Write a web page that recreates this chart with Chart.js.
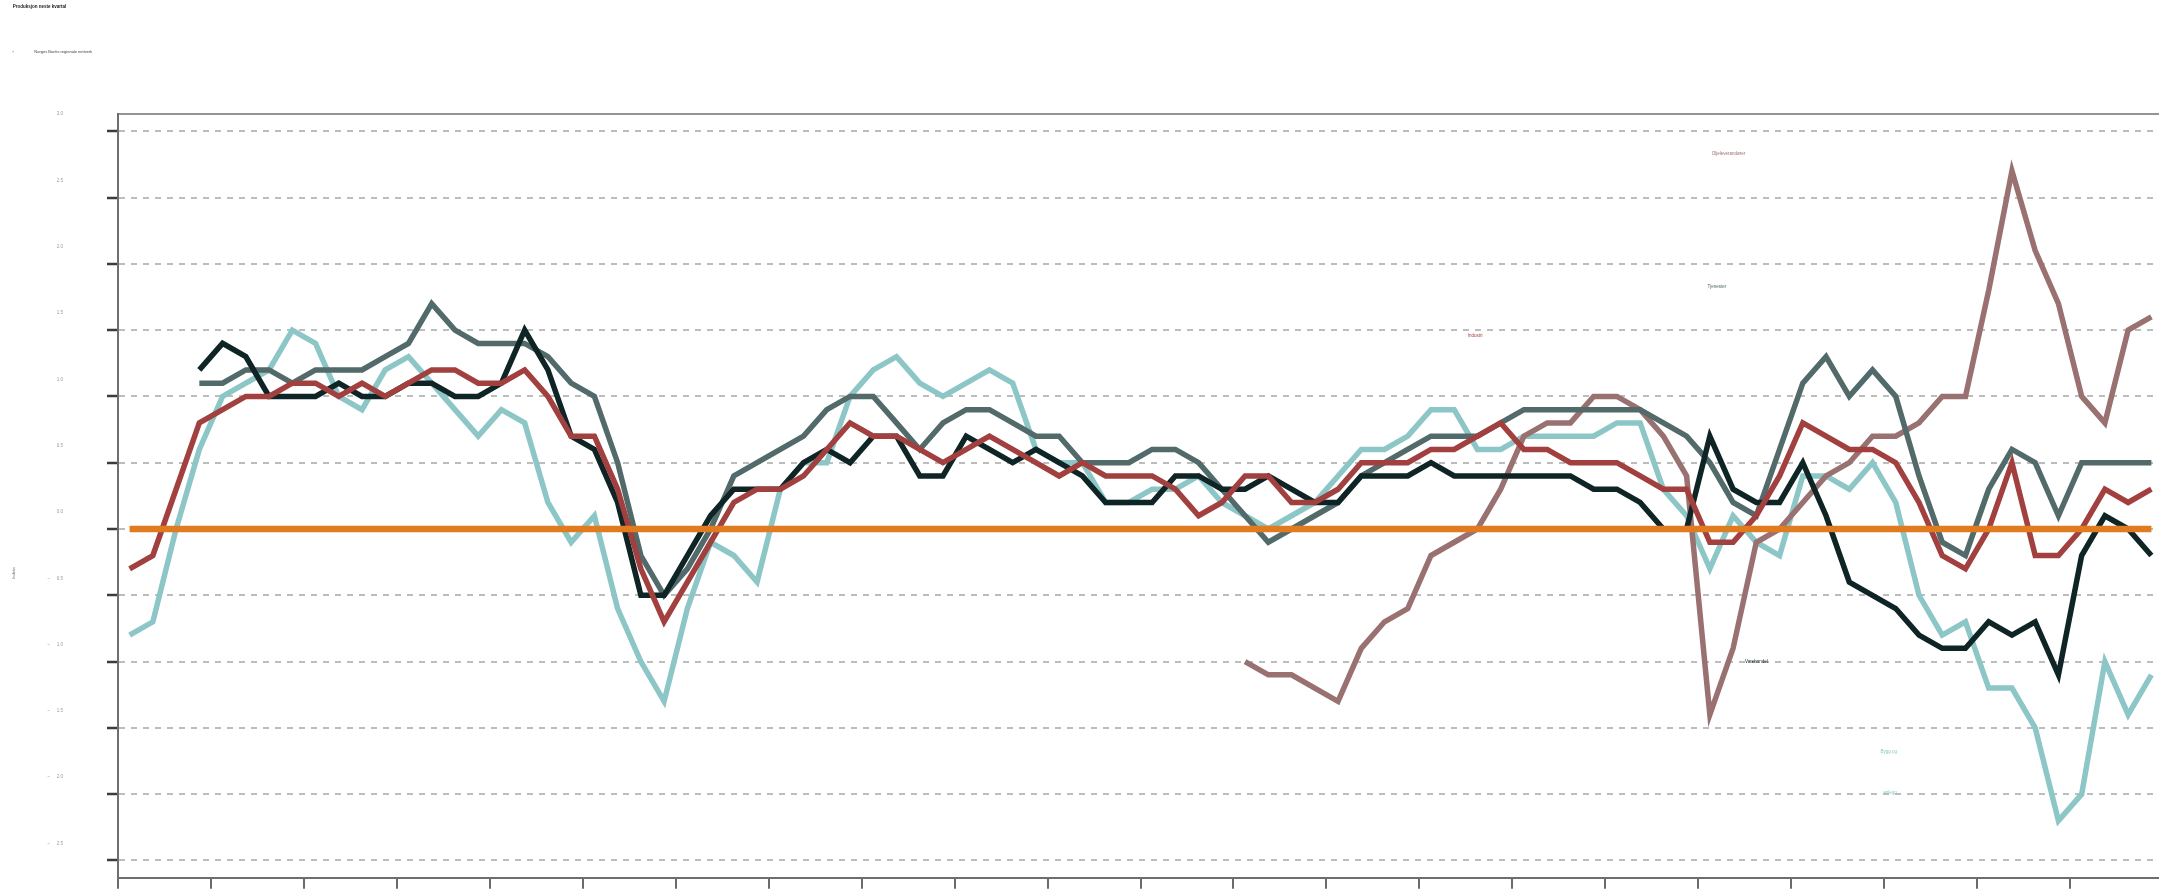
<!DOCTYPE html>
<html lang="no">
<head>
<meta charset="utf-8">
<title>Produksjon neste kvartal</title>
<script src="https://cdn.jsdelivr.net/npm/chart.js@4.4.1/dist/chart.umd.min.js"></script>
<style>
html,body{margin:0;padding:0;background:#fff;overflow:hidden;width:2159px;height:890px;}
#c{position:absolute;left:0;top:0;display:block;}
</style>
</head>
<body>
<canvas id="c" width="2163" height="890" style="width:2163px;height:890px;"></canvas>
<script>
// ---------- Data ----------
const kvartaler = [
  "2003K2","2003K3","2003K4",
  "2004K1","2004K2","2004K3","2004K4","2005K1","2005K2","2005K3","2005K4",
  "2006K1","2006K2","2006K3","2006K4","2007K1","2007K2","2007K3","2007K4",
  "2008K1","2008K2","2008K3","2008K4","2009K1","2009K2","2009K3","2009K4",
  "2010K1","2010K2","2010K3","2010K4","2011K1","2011K2","2011K3","2011K4",
  "2012K1","2012K2","2012K3","2012K4","2013K1","2013K2","2013K3","2013K4",
  "2014K1","2014K2","2014K3","2014K4","2015K1","2015K2","2015K3","2015K4",
  "2016K1","2016K2","2016K3","2016K4","2017K1","2017K2","2017K3","2017K4",
  "2018K1","2018K2","2018K3","2018K4","2019K1","2019K2","2019K3","2019K4",
  "2020K1","2020K2","2020K3","2020K4","2021K1","2021K2","2021K3","2021K4",
  "2022K1","2022K2","2022K3","2022K4","2023K1","2023K2","2023K3","2023K4",
  "2024K1","2024K2","2024K3","2024K4","2025K1"
];

const industri = [
  -0.3,-0.2, 0.3, 0.8, 0.9, 1.0, 1.0, 1.1, 1.1, 1.0,
   1.1, 1.0, 1.1, 1.2, 1.2, 1.1, 1.1, 1.2, 1.0, 0.7,
   0.7, 0.3,-0.3,-0.7,-0.4,-0.1, 0.2, 0.3, 0.3, 0.4,
   0.6, 0.8, 0.7, 0.7, 0.6, 0.5, 0.6, 0.7, 0.6, 0.5,
   0.4, 0.5, 0.4, 0.4, 0.4, 0.3, 0.1, 0.2, 0.4, 0.4,
   0.2, 0.2, 0.3, 0.5, 0.5, 0.5, 0.6, 0.6, 0.7, 0.8,
   0.6, 0.6, 0.5, 0.5, 0.5, 0.4, 0.3, 0.3,-0.1,-0.1,
   0.1, 0.4, 0.8, 0.7, 0.6, 0.6, 0.5, 0.2,-0.2,-0.3,
   0.0, 0.5,-0.2,-0.2, 0.0, 0.3, 0.2, 0.3
];

const varehandel = [
  null,null,null, 1.2, 1.4, 1.3, 1.0, 1.0, 1.0, 1.1,
   1.0, 1.0, 1.1, 1.1, 1.0, 1.0, 1.1, 1.5, 1.2, 0.7,
   0.6, 0.2,-0.5,-0.5,-0.2, 0.1, 0.3, 0.3, 0.3, 0.5,
   0.6, 0.5, 0.7, 0.7, 0.4, 0.4, 0.7, 0.6, 0.5, 0.6,
   0.5, 0.4, 0.2, 0.2, 0.2, 0.4, 0.4, 0.3, 0.3, 0.4,
   0.3, 0.2, 0.2, 0.4, 0.4, 0.4, 0.5, 0.4, 0.4, 0.4,
   0.4, 0.4, 0.4, 0.3, 0.3, 0.2, 0.0, 0.0, 0.7, 0.3,
   0.2, 0.2, 0.5, 0.1,-0.4,-0.5,-0.6,-0.8,-0.9,-0.9,
  -0.7,-0.8,-0.7,-1.1,-0.2, 0.1, 0.0,-0.2
];

const tjenester = [
  null,null,null, 1.1, 1.1, 1.2, 1.2, 1.1, 1.2, 1.2,
   1.2, 1.3, 1.4, 1.7, 1.5, 1.4, 1.4, 1.4, 1.3, 1.1,
   1.0, 0.5,-0.2,-0.5,-0.3, 0.0, 0.4, 0.5, 0.6, 0.7,
   0.9, 1.0, 1.0, 0.8, 0.6, 0.8, 0.9, 0.9, 0.8, 0.7,
   0.7, 0.5, 0.5, 0.5, 0.6, 0.6, 0.5, 0.3, 0.1,-0.1,
   0.0, 0.1, 0.2, 0.4, 0.5, 0.6, 0.7, 0.7, 0.7, 0.8,
   0.9, 0.9, 0.9, 0.9, 0.9, 0.9, 0.8, 0.7, 0.5, 0.2,
   0.1, 0.6, 1.1, 1.3, 1.0, 1.2, 1.0, 0.4,-0.1,-0.2,
   0.3, 0.6, 0.5, 0.1, 0.5, 0.5, 0.5, 0.5
];

const byggOgAnlegg = [
  -0.8,-0.7, 0.0, 0.6, 1.0, 1.1, 1.2, 1.5, 1.4, 1.0,
   0.9, 1.2, 1.3, 1.1, 0.9, 0.7, 0.9, 0.8, 0.2,-0.1,
   0.1,-0.6,-1.0,-1.3,-0.6,-0.1,-0.2,-0.4, 0.3, 0.5,
   0.5, 1.0, 1.2, 1.3, 1.1, 1.0, 1.1, 1.2, 1.1, 0.6,
   0.5, 0.5, 0.2, 0.2, 0.3, 0.3, 0.4, 0.2, 0.1, 0.0,
   0.1, 0.2, 0.4, 0.6, 0.6, 0.7, 0.9, 0.9, 0.6, 0.6,
   0.7, 0.7, 0.7, 0.7, 0.8, 0.8, 0.3, 0.1,-0.3, 0.1,
  -0.1,-0.2, 0.4, 0.4, 0.3, 0.5, 0.2,-0.5,-0.8,-0.7,
  -1.2,-1.2,-1.5,-2.2,-2.0,-1.0,-1.4,-1.1
];

const oljeleverandorer = [
  null,null,null,null,null,null,null,null,null,null,
  null,null,null,null,null,null,null,null,null,null,
  null,null,null,null,null,null,null,null,null,null,
  null,null,null,null,null,null,null,null,null,null,
  null,null,null,null,null,null,null,null,-1.0,-1.1,
  -1.1,-1.2,-1.3,-0.9,-0.7,-0.6,-0.2,-0.1, 0.0, 0.3,
   0.7, 0.8, 0.8, 1.0, 1.0, 0.9, 0.7, 0.4,-1.4,-0.9,
  -0.1, 0.0, 0.2, 0.4, 0.5, 0.7, 0.7, 0.8, 1.0, 1.0,
   1.8, 2.7, 2.1, 1.7, 1.0, 0.8, 1.5, 1.6
];

const nullLinje = [0, 0];
const yTicks = [-2.5, -2.0, -1.5, -1.0, -0.5, 0.0, 0.5, 1.0, 1.5, 2.0, 2.5, 3.0];

const tittel = "Produksjon neste kvartal";
const kilde = "Norges Banks regionale nettverk";
const yTittel = "Indeks";

// ---------- Styles ----------
const FONT = "'Liberation Sans', Arial, sans-serif";
const farger = {
  industri: '#a23f3f',
  varehandel: '#0f2424',
  tjenester: '#526a6a',
  bygg: '#8cc6c6',
  olje: '#9a7171',
  null: '#e07b20'
};

const etiketter = [
  { tekst: 'Oljeleverandører', i: 68.8, v: 2.83, farge: farger.olje },
  { tekst: 'Tjenester', i: 68.3, v: 1.83, farge: farger.tjenester },
  { tekst: 'Industri', i: 57.9, v: 1.46, farge: farger.industri },
  { tekst: 'Varehandel', i: 70.0, v: -1.0, farge: farger.varehandel },
  { tekst: 'Bygg og', i: 75.7, v: -1.68, farge: farger.bygg },
  { tekst: 'anlegg', i: 75.75, v: -1.99, farge: farger.bygg }
];

const tekstPlugin = {
  id: 'tekster',
  afterDraw(chart) {
    const ctx = chart.ctx;
    const a = chart.chartArea;
    const xs = chart.scales.x, ys = chart.scales.y;
    ctx.save();
    // top frame line
    ctx.strokeStyle = '#707070';
    ctx.lineWidth = 1.5;
    ctx.beginPath();
    ctx.moveTo(a.left, a.top);
    ctx.lineTo(a.right + 5, a.top);
    ctx.stroke();
    // title
    ctx.fillStyle = '#1e1e1e';
    ctx.font = 'bold 4.5px ' + FONT;
    ctx.textAlign = 'left';
    ctx.textBaseline = 'middle';
    ctx.fillText(tittel, 12.7, 6.8);
    // source / legend
    ctx.strokeStyle = '#8a8a8a';
    ctx.lineWidth = 0.8;
    ctx.beginPath();
    ctx.moveTo(12.5, 51.7); ctx.lineTo(14, 51.7);
    ctx.stroke();
    ctx.fillStyle = '#444';
    ctx.font = '4px ' + FONT;
    ctx.fillText(kilde, 34.3, 51.7);
    // y-axis title
    ctx.save();
    ctx.translate(14, 573);
    ctx.rotate(-Math.PI / 2);
    ctx.textAlign = 'center';
    ctx.fillStyle = '#666';
    ctx.font = '4px ' + FONT;
    ctx.fillText(yTittel, 0, 0);
    ctx.restore();
    // series labels
    ctx.font = '4.5px ' + FONT;
    ctx.textAlign = 'center';
    etiketter.forEach(e => {
      ctx.fillStyle = e.farge;
      ctx.fillText(e.tekst, xs.getPixelForValue(e.i), ys.getPixelForValue(e.v));
    });
    ctx.restore();
  }
};

const lineDs = (label, data, color, width, order) => ({
  label, data, borderColor: color, backgroundColor: color,
  borderWidth: width, pointRadius: 0, pointHoverRadius: 0,
  tension: 0, spanGaps: false, fill: false, order,
  borderCapStyle: 'butt', borderJoinStyle: 'miter'
});

new Chart(document.getElementById('c'), {
  type: 'line',
  data: {
    labels: kvartaler,
    datasets: [
      lineDs('Null', [
        { x: kvartaler[0], y: nullLinje[0] },
        { x: kvartaler[kvartaler.length - 1], y: nullLinje[1] }
      ], farger.null, 6.5, 0),
      lineDs('Industri', industri, farger.industri, 5.5, 1),
      lineDs('Varehandel', varehandel, farger.varehandel, 5.5, 2),
      lineDs('Tjenester', tjenester, farger.tjenester, 5.5, 3),
      lineDs('Oljeleverandører', oljeleverandorer, farger.olje, 5.5, 4),
      lineDs('Bygg og anlegg', byggOgAnlegg, farger.bygg, 5.5, 5)
    ]
  },
  options: {
    responsive: false,
    maintainAspectRatio: false,
    animation: false,
    devicePixelRatio: 1,
    events: [],
    layout: { padding: { top: 114, right: 0, bottom: 0, left: 0 } },
    plugins: {
      legend: { display: false },
      title: { display: false },
      tooltip: { enabled: false }
    },
    scales: {
      x: {
        type: 'category',
        offset: true,
        afterFit: (s) => { s.height = 12.3; s.paddingLeft = 0; s.paddingRight = 0; },
        grid: {
          offset: true,
          drawOnChartArea: false,
          drawTicks: true,
          tickLength: 11,
          tickWidth: 1.5,
          tickColor: (c) => (c.index % 4 === 0 ? '#3a3a3a' : 'rgba(0,0,0,0)'),
          lineWidth: 0
        },
        border: { display: true, color: '#6e6e6e', width: 2 },
        ticks: { display: false, autoSkip: false }
      },
      y: {
        type: 'linear',
        min: -2.63,
        max: 3.13,
        afterFit: (s) => { s.width = 118; s.paddingTop = 0; s.paddingBottom = 0; },
        afterBuildTicks: (s) => { s.ticks = yTicks.map(v => ({ value: v })); },
        grid: {
          color: '#bdbdbd',
          lineWidth: 2,
          drawTicks: true,
          tickLength: 11,
          tickWidth: 2.5,
          tickColor: '#3c3c3c',
          tickBorderDash: []
        },
        border: { display: true, color: '#6e6e6e', width: 2, dash: [6, 6] },
        ticks: {
          padding: 44,
          labelOffset: -17,
          color: '#9a9a9a',
          font: { size: 4.5, family: FONT },
          callback: (v) => (v < 0 ? '\u2013\u2003\u2002' + Math.abs(v).toFixed(1) : v.toFixed(1))
        }
      }
    }
  },
  plugins: [tekstPlugin]
});
</script>
</body>
</html>
